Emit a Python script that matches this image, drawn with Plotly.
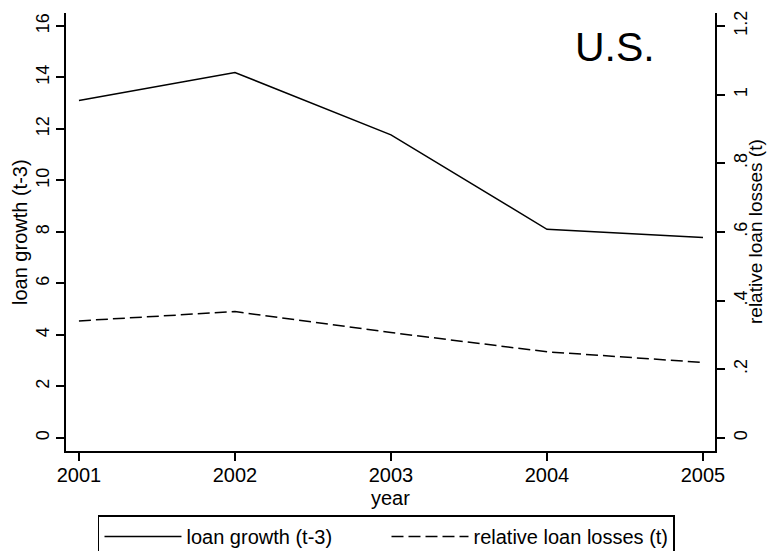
import plotly.graph_objects as go

years = [2001, 2002, 2003, 2004, 2005]
loan_growth = [13.1, 14.19, 11.77, 8.1, 7.78]
rel_losses = [0.341, 0.368, 0.307, 0.251, 0.22]

left_ticks = [0, 2, 4, 6, 8, 10, 12, 14, 16]
right_ticks = [0, 0.2, 0.4, 0.6, 0.8, 1.0, 1.2]
right_labels = ["0", ".2", ".4", ".6", ".8", "1", "1.2"]

FONT = "Liberation Sans, Arial, sans-serif"
FS = 20

fig = go.Figure()
fig.add_trace(go.Scatter(x=years, y=loan_growth, mode="lines", name="loan growth (t-3)",
                         line=dict(color="black", width=1.5), yaxis="y"))
fig.add_trace(go.Scatter(x=years, y=rel_losses, mode="lines", name="relative loan losses (t)",
                         line=dict(color="black", width=1.5, dash="12px,5px"), yaxis="y2"))

axis_common = dict(showgrid=False, zeroline=False, showline=True, linecolor="black", linewidth=1.8,
                   ticks="outside", ticklen=8, tickwidth=1.5, tickcolor="black")

yfont = dict(family=FONT, size=18, color="black")
xfont = dict(family=FONT, size=FS, color="black")

fig.update_layout(
    width=767, height=551,
    margin=dict(l=66, r=52, t=13, b=100, autoexpand=False),
    plot_bgcolor="white", paper_bgcolor="white",
    font=dict(family=FONT, size=FS, color="black"),
    xaxis=dict(range=[2000.917, 2005.077], tickvals=years, ticklabelstandoff=-3,
               tickfont=xfont, **axis_common),
    yaxis=dict(range=[-0.505, 16.5], tickvals=left_ticks, tickangle=-90, tickfont=yfont,
               **axis_common),
    yaxis2=dict(range=[-0.0379, 1.2375], tickvals=right_ticks, ticktext=right_labels, tickangle=-90,
                overlaying="y", side="right", ticklabelstandoff=0, tickfont=yfont, **axis_common),
    showlegend=True,
    legend=dict(orientation="h", x=0.0493, xanchor="left", y=-0.147, yanchor="top",
                bordercolor="black", borderwidth=1.5, itemwidth=77,
                entrywidth=195, entrywidthmode="pixels",
                font=dict(family=FONT, size=FS, color="black")),
    annotations=[
        dict(text="U.S.", xref="paper", yref="paper", x=0.846, y=0.922,
             xanchor="center", yanchor="middle", showarrow=False,
             font=dict(family=FONT, size=41, color="black")),
        dict(text="year", xref="paper", yref="paper", x=0.5, y=0, yshift=-47,
             xanchor="center", yanchor="middle", showarrow=False,
             font=dict(family=FONT, size=FS, color="black")),
        dict(text="loan growth (t-3)", xref="paper", yref="paper", x=0, y=0.5, xshift=-46,
             textangle=-90, xanchor="center", yanchor="middle", showarrow=False,
             font=dict(family=FONT, size=FS, color="black")),
        dict(text="relative loan losses (t)", xref="paper", yref="paper", x=1, y=0.5, xshift=40,
             textangle=-90, xanchor="center", yanchor="middle", showarrow=False, borderpad=0,
             font=dict(family=FONT, size=19, color="black")),
    ],
)

fig.write_html("out.html")
